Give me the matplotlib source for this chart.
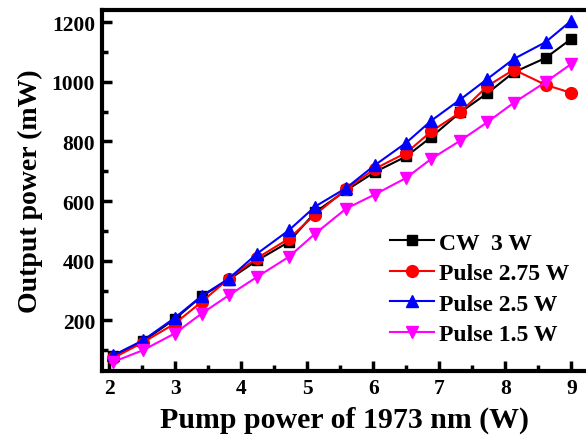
import matplotlib
matplotlib.use("Agg")
import matplotlib.pyplot as plt
from matplotlib.ticker import MultipleLocator

pump = [2.06, 2.51, 2.99, 3.40, 3.81, 4.24, 4.72, 5.12, 5.59, 6.02, 6.50, 6.88, 7.32, 7.73, 8.13, 8.61, 9.00]
cw_3w = [81, 130, 204, 281, 337, 401, 463, 563, 636, 697, 750, 815, 898, 962, 1032, 1080, 1144]
pulse_275 = [74, 126, 189, 262, 340, 409, 474, 555, 640, 708, 762, 834, 898, 986, 1041, 990, 963]
pulse_25 = [83, 133, 208, 282, 340, 424, 502, 582, 644, 720, 796, 870, 941, 1010, 1077, 1133, 1205]
pulse_15 = [61, 100, 156, 223, 284, 346, 413, 491, 575, 622, 678, 742, 803, 865, 930, 999, 1060]
labels = ["CW  3 W", "Pulse 2.75 W", "Pulse 2.5 W", "Pulse 1.5 W"]

plt.rcParams['font.family'] = ['Liberation Serif', 'DejaVu Serif']
plt.rcParams['font.weight'] = 'bold'

fig = plt.figure(figsize=(5.86, 4.39), dpi=100)
ax = fig.add_axes([0.174, 0.153, 0.829, 0.822])

series = [
    (cw_3w, 'black', 's', 7.5),
    (pulse_275, 'red', 'o', 8.5),
    (pulse_25, 'blue', '^', 9),
    (pulse_15, '#ff00ff', 'v', 9),
]
for (ys, c, m, ms), lab in zip(series, labels):
    ax.plot(pump, ys, color=c, marker=m, markersize=ms, linewidth=1.5, label=lab)

ax.set_xlim(1.89, 9.25)
ax.set_ylim(31, 1241)
ax.xaxis.set_major_locator(MultipleLocator(1))
ax.xaxis.set_minor_locator(MultipleLocator(0.5))
ax.yaxis.set_major_locator(MultipleLocator(200))
ax.yaxis.set_minor_locator(MultipleLocator(100))
ax.tick_params(which='major', direction='in', length=7, width=2.5, labelsize=15.5, pad=5)
ax.tick_params(which='minor', direction='in', length=4, width=2.5)
for lab in ax.get_xticklabels() + ax.get_yticklabels():
    lab.set_fontweight('bold')
for s in ax.spines.values():
    s.set_linewidth(3)

ax.set_xlabel('Pump power of 1973 nm (W)', fontsize=21.5, fontweight='bold', labelpad=6)
ax.set_ylabel('Output power (mW)', fontsize=20, fontweight='bold', labelpad=6)

leg = ax.legend(loc='lower right', frameon=False, prop={'size': 17, 'weight': 'bold'},
                handlelength=1.9, handletextpad=0.2, labelspacing=0.38,
                bbox_to_anchor=(1.006, 0.012))

fig.savefig('out.png', dpi=100)
